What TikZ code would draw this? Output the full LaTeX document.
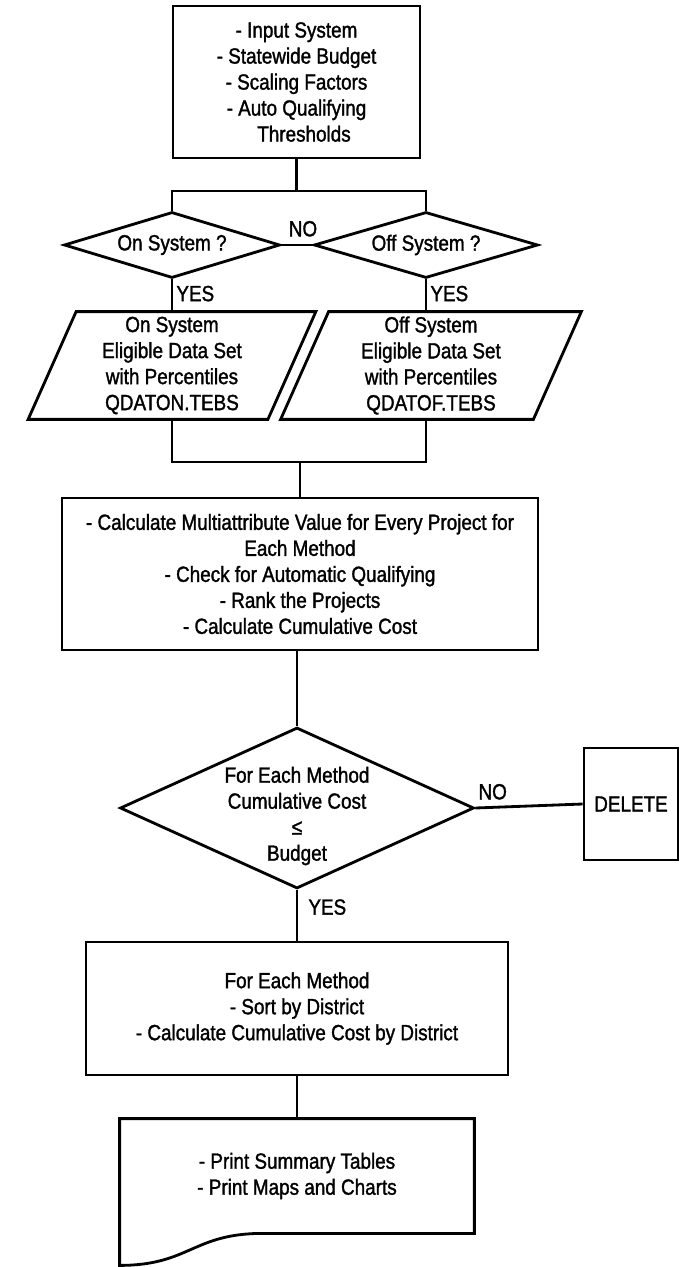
\documentclass[tikz,border=0pt]{standalone}
\usepackage{fontspec}
\setmainfont[FakeStretch=0.86,FakeBold=1.4]{Liberation Sans}
\usetikzlibrary{shapes.geometric,calc}

\begin{document}
\begin{tikzpicture}[x=0.02cm,y=-0.02cm,line width=1.6pt,
  every node/.style={font=\fontsize{12.5}{14.8}\selectfont, align=center},
  box/.style={draw, rectangle, inner sep=0pt},
  decision/.style={draw, diamond, aspect=3.3, inner sep=0pt},
  dataset/.style={rectangle, inner sep=0pt},
  answer/.style={anchor=north west, inner sep=0pt}]

\useasboundingbox (0,0) rectangle (680,1267);

\node[box, minimum width=4.94cm, minimum height=3.04cm] (inp) at (296.5,82)
  {- Input System\\ - Statewide Budget\\ - Scaling Factors\\ - Auto Qualifying\\ \hspace{0.3cm}Thresholds};

\node[decision, minimum width=4.32cm, minimum height=1.32cm] (on) at (172,245) {On System ?};
\node[decision, minimum width=4.48cm, minimum height=1.32cm] (off) at (426,245) {Off System ?};

\coordinate (split) at (inp.south |- 0,191);
\draw (inp) -- (split);
\draw (on.north) |- (split) -| (off.north);
\draw (on.east) -- node[above=4pt, inner sep=0pt, xshift=0.12cm] (nosys) {NO} (off.west);

\node[answer] (yon) at ([xshift=0.06cm,yshift=-0.1cm]on.south) {YES};
\node[answer] (yoff) at ([xshift=0.06cm,yshift=-0.1cm]off.south) {YES};

\node[dataset, minimum width=4.74cm, minimum height=2.1cm] (ond) at (172,365.5)
  {On System\\ Eligible Data Set\\ with Percentiles\\ QDATON.TEBS};
\node[dataset, minimum width=5cm, minimum height=2.1cm] (offd) at (431,365.5)
  {Off System\\ Eligible Data Set\\ with Percentiles\\ QDATOF.TEBS};
\foreach \d in {ond,offd}
  \draw ([xshift=0.48cm]\d.north west) -- ([xshift=0.48cm]\d.north east)
    -- ([xshift=-0.48cm]\d.south east) -- ([xshift=-0.48cm]\d.south west) -- cycle;

\draw (on.south) -- (on.south |- ond.north);
\draw (off.south) -- (off.south |- offd.north);

\coordinate (join) at (300,462);
\draw (ond.south) |- (join) -| (off.south |- offd.south);

\node[box, minimum width=9.52cm, minimum height=3.04cm] (calc) at (300,574)
  {- Calculate Multiattribute Value for Every Project for\\ Each Method\\
   - Check for Automatic Qualifying\\ - Rank the Projects\\ - Calculate Cumulative Cost};
\draw (join) -- (calc);

\node[decision, minimum width=7.08cm, minimum height=3.22cm] (bud) at (297,808) {};
\node[inner sep=0pt] (budtxt) at ([yshift=-0.16cm]bud.center)
  {For Each Method\\ Cumulative Cost\\ ≤\\ Budget};
\draw (calc.south -| bud.north) -- (bud.north);

\node[box, minimum width=1.88cm, minimum height=2.24cm] (del) at (631,804) {DELETE};
\draw (bud.east) -- node[pos=0, anchor=south west, inner xsep=1pt, inner ysep=4pt] (nobud) {NO} (del.west);

\node[answer] (ybud) at ([xshift=0.2cm,yshift=-0.16cm]bud.south) {YES};

\node[box, minimum width=8.44cm, minimum height=2.66cm] (dist) at (297,1008.5)
  {For Each Method\\ - Sort by District\\ - Calculate Cumulative Cost by District};
\draw (bud.south) -- (dist.north);

\node[dataset, minimum width=7.04cm, minimum height=2.24cm] (prt) at (297,1176)
  {- Print Summary Tables\\ - Print Maps and Charts};
\draw (dist.south) -- (prt.north);
\draw (prt.south east) -- (prt.north east) -- (prt.north west) -- ([yshift=-0.64cm]prt.south west)
  .. controls +(1.4cm,0) and +(-1.4cm,0) .. ([xshift=2.86cm]prt.south west) -- cycle;
\end{tikzpicture}
\end{document}
